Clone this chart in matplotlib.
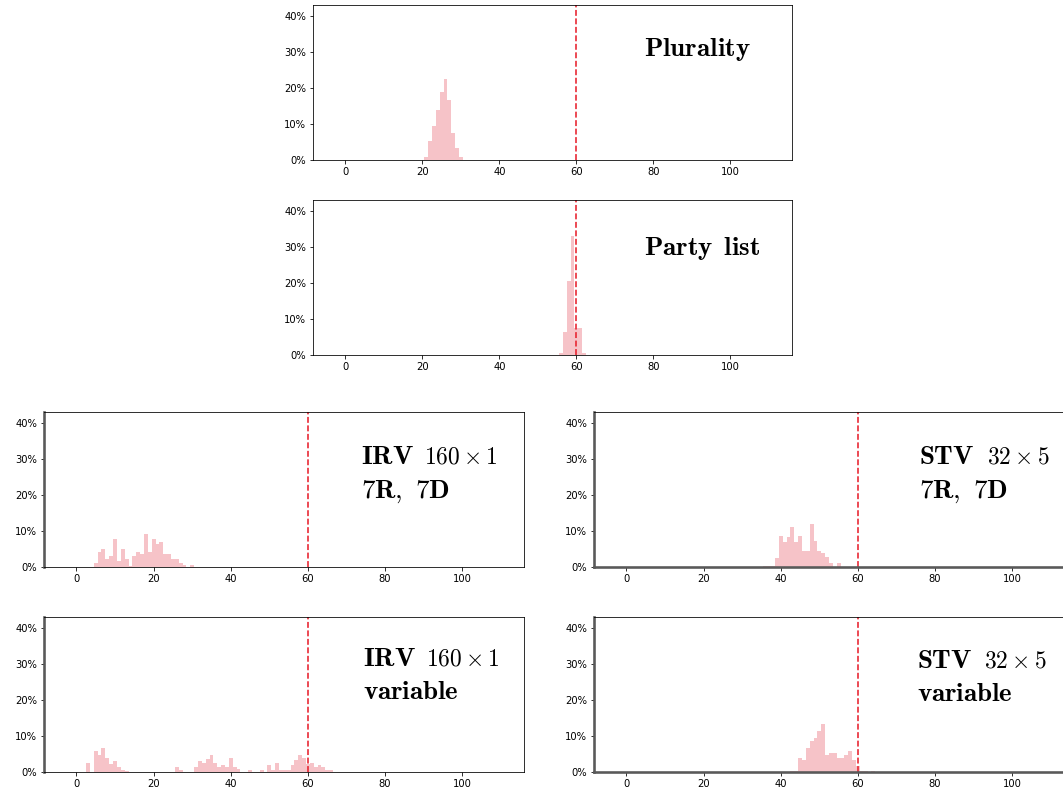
import matplotlib
matplotlib.use("Agg")
import matplotlib.pyplot as plt
from matplotlib.ticker import PercentFormatter

plt.rcParams['mathtext.fontset'] = 'cm'

# seat counts (bin centres) and share of simulations in %
plur_x = list(range(21, 31))
plur_pct = [0.8, 5.4, 9.3, 13.9, 18.9, 22.5, 16.7, 7.5, 3.3, 0.8]

party_x = list(range(56, 63))
party_pct = [0.6, 6.5, 20.6, 32.9, 7.6, 7.6, 0.6]

irv_fix_x = list(range(5, 31))
irv_fix_pct = [1.0, 4.3, 4.9, 2.3, 3.1, 7.7, 1.7, 4.9, 2.1, 0.3, 3.1, 4.3, 3.7,
               9.1, 4.3, 7.7, 6.3, 6.9, 3.7, 3.7, 2.1, 2.1, 1.0, 0.5, 0.0, 0.5]

stv_fix_x = list(range(36, 56))
stv_fix_pct = [0.3, 0.3, 0.3, 2.4, 8.6, 7.0, 8.4, 11.2, 7.0, 8.6, 4.4, 4.4,
               11.8, 7.2, 4.4, 4.0, 2.9, 1.2, 0.0, 1.2]

irv_var_x = list(range(3, 67))
irv_var_pct = [2.6, 0.0, 5.9, 4.7, 6.6, 3.8, 2.1, 3.1, 1.3, 0.6, 0.3,
               0, 0, 0, 0, 0, 0, 0, 0, 0, 0, 0, 0, 1.3, 0.6,
               0, 0, 0, 1.3, 3.1, 2.6, 3.6, 4.7, 2.6, 1.3, 1.9, 1.3, 3.9, 1.3, 0.9,
               0, 0, 0.6, 0, 0, 0.6, 0, 1.9, 0.6, 2.6, 0.6, 0.6, 0.6,
               1.9, 3.2, 4.7, 4.0, 2.3, 2.6, 1.3, 1.9, 1.3, 0.6, 0.6]

stv_var_x = list(range(43, 65))
stv_var_pct = [0.3, 0.3, 3.8, 3.3, 6.6, 8.6, 9.3, 11.4, 13.3, 4.7, 5.2, 5.2,
               4.0, 4.0, 4.7, 5.9, 3.3, 1.6, 0.3, 0.3, 0.0, 0.3]

threshold = 60
xticks = [0, 20, 40, 60, 80, 100]
yticks = [0, 10, 20, 30, 40]

BOLD, NUM = 27, 23.5

W, H = 1063, 793
fig = plt.figure(figsize=(W / 72, H / 72), dpi=72)

def box(x0, y0, x1, y1):
    return [x0 / W, 1 - y1 / H, (x1 - x0) / W, (y1 - y0) / H]

def panel(rect, xs, ys, labels, grey_left=False, grey_bottom=False):
    ax = fig.add_axes(rect)
    ax.bar(xs, ys, width=1.0, color='#f6c3c8', linewidth=0)
    ax.axvline(threshold, color='#e8212e', ls='--', lw=1.6)
    ax.set_xlim(-8.4, 116)
    ax.set_ylim(0, 43)
    ax.set_xticks(xticks)
    ax.set_yticks(yticks)
    ax.yaxis.set_major_formatter(PercentFormatter(100, decimals=0))
    ax.tick_params(labelsize=10)
    if grey_left:
        ax.spines['left'].set_color('0.35')
        ax.spines['left'].set_linewidth(2.6)
    if grey_bottom:
        ax.spines['bottom'].set_color('0.35')
        ax.spines['bottom'].set_linewidth(2.6)
    for x, y, s, size in labels:
        ax.text(x, y, s, transform=ax.transAxes, fontsize=size,
                va='baseline', ha='left')
    return ax

panel(box(313, 5, 792, 160), plur_x, plur_pct,
      [(0.691, 0.671, r'$\mathbf{Plurality}$', BOLD)])
panel(box(313, 200, 792, 355), party_x, party_pct,
      [(0.691, 0.645, r'$\mathbf{Party\ \,list}$', BOLD)])
panel(box(44, 412, 524, 567), irv_fix_x, irv_fix_pct,
      [(0.661, 0.665, r'$\mathbf{IRV}$', BOLD),
       (0.792, 0.665, r'$160\times 1$', NUM),
       (0.661, 0.445, r'$\mathbf{7R,\ 7D}$', BOLD)],
      grey_left=True)
panel(box(594, 412, 1074, 567), stv_fix_x, stv_fix_pct,
      [(0.678, 0.665, r'$\mathbf{STV}$', BOLD),
       (0.819, 0.665, r'$32\times 5$', NUM),
       (0.678, 0.445, r'$\mathbf{7R,\ 7D}$', BOLD)],
      grey_left=True, grey_bottom=True)
panel(box(44, 617, 524, 772), irv_var_x, irv_var_pct,
      [(0.665, 0.684, r'$\mathbf{IRV}$', BOLD),
       (0.795, 0.684, r'$160\times 1$', NUM),
       (0.665, 0.471, r'$\mathbf{variable}$', BOLD)],
      grey_left=True)
panel(box(594, 617, 1074, 772), stv_var_x, stv_var_pct,
      [(0.673, 0.671, r'$\mathbf{STV}$', BOLD),
       (0.812, 0.671, r'$32\times 5$', NUM),
       (0.673, 0.458, r'$\mathbf{variable}$', BOLD)],
      grey_left=True, grey_bottom=True)

fig.savefig('out.png', dpi=72)
